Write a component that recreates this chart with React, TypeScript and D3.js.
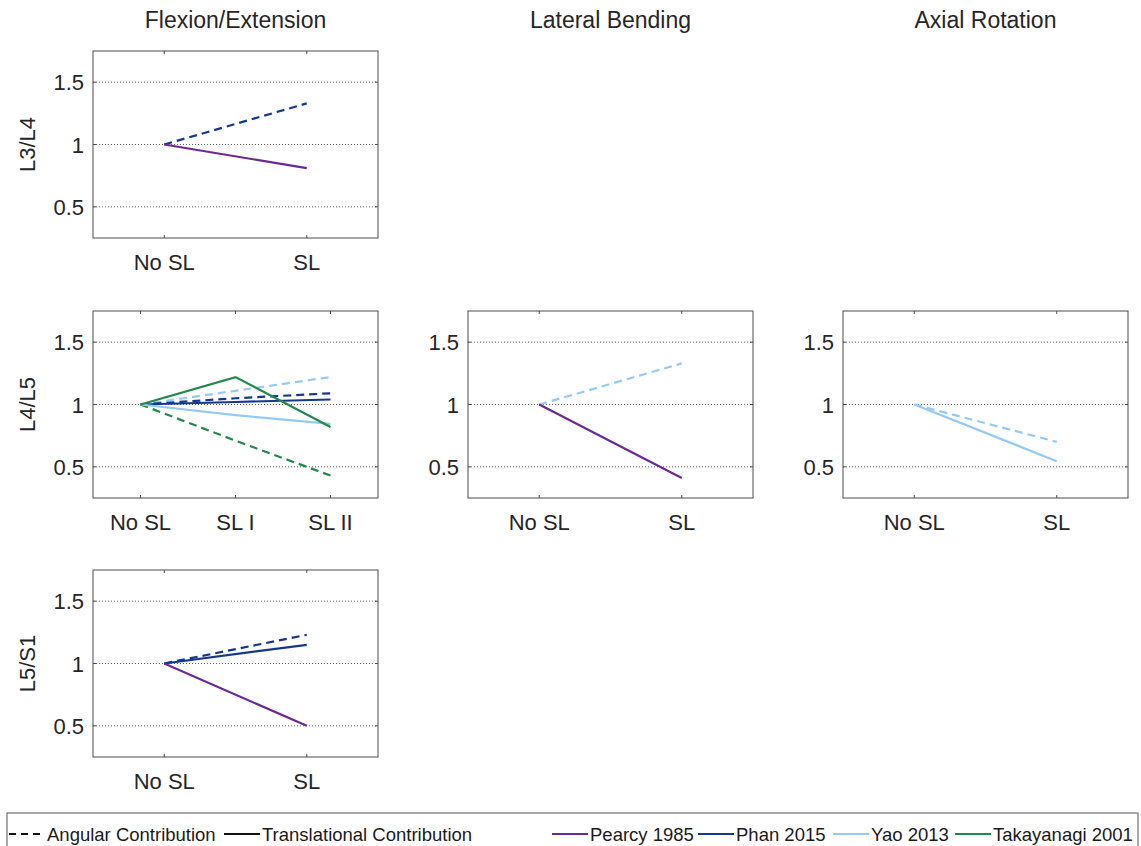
import React from "react";
import * as d3 from "d3";

// Axis content
const columnTitles = ["Flexion/Extension", "Lateral Bending", "Axial Rotation"];
const rowLabels = ["L3/L4", "L4/L5", "L5/S1"];
const twoLevels = ["No SL", "SL"];
const threeLevels = ["No SL", "SL I", "SL II"];
const yTicks = [0.5, 1, 1.5];
const yDomain: [number, number] = [0.25, 1.75];

// Studies and their colours
const studies = ["Pearcy 1985", "Phan 2015", "Yao 2013", "Takayanagi 2001"];
const studyColors = ["#6e2893", "#14388f", "#94cbf6", "#1f8a4e"];

// Normalised contributions, L3/L4 flexion/extension
const l34FlexPhanAngular = [1, 1.33];
const l34FlexPearcyTranslational = [1, 0.81];

// L4/L5 flexion/extension
const l45FlexTakayanagiAngular = [1, 0.71, 0.43];
const l45FlexYaoAngular = [1, 1.11, 1.22];
const l45FlexPhanAngular = [1, 1.05, 1.09];
const l45FlexPhanTranslational = [1, 1.02, 1.04];
const l45FlexYaoTranslational = [1, 0.915, 0.845];
const l45FlexTakayanagiTranslational = [1, 1.22, 0.82];

// L4/L5 lateral bending
const l45LatYaoAngular = [1, 1.33];
const l45LatPearcyTranslational = [1, 0.41];

// L4/L5 axial rotation
const l45AxYaoAngular = [1, 0.7];
const l45AxYaoTranslational = [1, 0.545];

// L5/S1 flexion/extension
const l5s1FlexPhanAngular = [1, 1.23];
const l5s1FlexPhanTranslational = [1, 1.15];
const l5s1FlexPearcyTranslational = [1, 0.5];

type Series = { study: number; angular: boolean; values: number[] };
type Panel = { row: number; col: number; levels: string[]; series: Series[] };

const panels: Panel[] = [
  {
    row: 0, col: 0, levels: twoLevels,
    series: [
      { study: 1, angular: true, values: l34FlexPhanAngular },
      { study: 0, angular: false, values: l34FlexPearcyTranslational },
    ],
  },
  {
    row: 1, col: 0, levels: threeLevels,
    series: [
      { study: 3, angular: true, values: l45FlexTakayanagiAngular },
      { study: 2, angular: true, values: l45FlexYaoAngular },
      { study: 1, angular: true, values: l45FlexPhanAngular },
      { study: 1, angular: false, values: l45FlexPhanTranslational },
      { study: 2, angular: false, values: l45FlexYaoTranslational },
      { study: 3, angular: false, values: l45FlexTakayanagiTranslational },
    ],
  },
  {
    row: 1, col: 1, levels: twoLevels,
    series: [
      { study: 2, angular: true, values: l45LatYaoAngular },
      { study: 0, angular: false, values: l45LatPearcyTranslational },
    ],
  },
  {
    row: 1, col: 2, levels: twoLevels,
    series: [
      { study: 2, angular: true, values: l45AxYaoAngular },
      { study: 2, angular: false, values: l45AxYaoTranslational },
    ],
  },
  {
    row: 2, col: 0, levels: twoLevels,
    series: [
      { study: 1, angular: true, values: l5s1FlexPhanAngular },
      { study: 1, angular: false, values: l5s1FlexPhanTranslational },
      { study: 0, angular: false, values: l5s1FlexPearcyTranslational },
    ],
  },
];

// Layout
const W = 1141;
const H = 846;
const colLeft = [93, 468, 843];
const rowTop = [51, 311, 570];
const panelW = 285;
const panelH = 187;
const FONT = "'Liberation Sans', Arial, Helvetica, sans-serif";
const AXIS_COLOR = "#4d4d4d";
const DASH = "8,5";

function PanelView({ p }: { p: Panel }) {
  const left = colLeft[p.col];
  const top = rowTop[p.row];
  const x = d3
    .scaleLinear()
    .domain([-0.5, p.levels.length - 0.5])
    .range([left, left + panelW]);
  const y = d3.scaleLinear().domain(yDomain).range([top + panelH, top]);
  const line = d3
    .line<number>()
    .x((_, i) => x(i))
    .y((v) => y(v));

  return (
    <g>
      {/* grid */}
      {yTicks.map((t) => (
        <line
          key={"g" + t}
          x1={left}
          x2={left + panelW}
          y1={y(t)}
          y2={y(t)}
          stroke="#3a3a3a"
          strokeWidth={0.8}
          strokeDasharray="1,2"
        />
      ))}
      {/* tick marks */}
      {yTicks.map((t) => (
        <g key={"yt" + t}>
          <line x1={left} x2={left + 3} y1={y(t)} y2={y(t)} stroke={AXIS_COLOR} />
          <line x1={left + panelW - 3} x2={left + panelW} y1={y(t)} y2={y(t)} stroke={AXIS_COLOR} />
          <text
            x={left - 9}
            y={y(t) + 8}
            textAnchor="end"
            fontSize={22}
            fill="#262626"
          >
            {t}
          </text>
        </g>
      ))}
      {p.levels.map((lab, i) => (
        <g key={"xt" + i}>
          <line x1={x(i)} x2={x(i)} y1={top} y2={top + 3} stroke={AXIS_COLOR} />
          <line x1={x(i)} x2={x(i)} y1={top + panelH - 3} y2={top + panelH} stroke={AXIS_COLOR} />
          <text
            x={x(i)}
            y={top + panelH + 32}
            textAnchor="middle"
            fontSize={22}
            fill="#262626"
          >
            {lab}
          </text>
        </g>
      ))}
      {/* data */}
      {p.series.map((s, k) => (
        <path
          key={"s" + k}
          d={line(s.values) || ""}
          fill="none"
          stroke={studyColors[s.study]}
          strokeWidth={2.2}
          strokeDasharray={s.angular ? DASH : undefined}
        />
      ))}
      {/* box */}
      <rect
        x={left}
        y={top}
        width={panelW}
        height={panelH}
        fill="none"
        stroke={AXIS_COLOR}
        strokeWidth={1}
      />
    </g>
  );
}

const legendLineItems = [
  { label: "Angular Contribution", color: "#111", dashed: true, textX: 47 },
  { label: "Translational Contribution", color: "#111", dashed: false, textX: 262 },
];
const legendStudyTextX = [590, 736, 871, 993];

export default function App() {
  const legendY = 834;
  return (
    <svg
      width={W}
      height={H}
      style={{ position: "absolute", left: 0, top: 0, background: "#fff" }}
      fontFamily={FONT}
    >
      <rect x={0} y={0} width={W} height={H} fill="#fff" />
      {columnTitles.map((t, i) => (
        <text
          key={t}
          x={colLeft[i] + panelW / 2}
          y={28}
          textAnchor="middle"
          fontSize={23}
          fill="#262626"
        >
          {t}
        </text>
      ))}
      {rowLabels.map((t, i) => (
        <text
          key={t}
          transform={`translate(35,${rowTop[i] + panelH / 2}) rotate(-90)`}
          textAnchor="middle"
          fontSize={22}
          fill="#262626"
        >
          {t}
        </text>
      ))}
      {panels.map((p, i) => (
        <PanelView key={i} p={p} />
      ))}
      {/* legend */}
      <rect x={7} y={813} width={1131} height={45} fill="#fff" stroke="#555" strokeWidth={1} />
      {legendLineItems.map((it) => (
        <g key={it.label}>
          <line
            x1={it.textX - 38}
            x2={it.textX - 2}
            y1={legendY}
            y2={legendY}
            stroke={it.color}
            strokeWidth={2}
            strokeDasharray={it.dashed ? "7,5" : undefined}
          />
          <text x={it.textX} y={legendY + 6.5} fontSize={18.5} fill="#1a1a1a">
            {it.label}
          </text>
        </g>
      ))}
      {studies.map((s, i) => (
        <g key={s}>
          <line
            x1={legendStudyTextX[i] - 38}
            x2={legendStudyTextX[i] - 2}
            y1={legendY}
            y2={legendY}
            stroke={studyColors[i]}
            strokeWidth={2.2}
          />
          <text x={legendStudyTextX[i]} y={legendY + 6.5} fontSize={18.5} fill="#1a1a1a">
            {s}
          </text>
        </g>
      ))}
    </svg>
  );
}
